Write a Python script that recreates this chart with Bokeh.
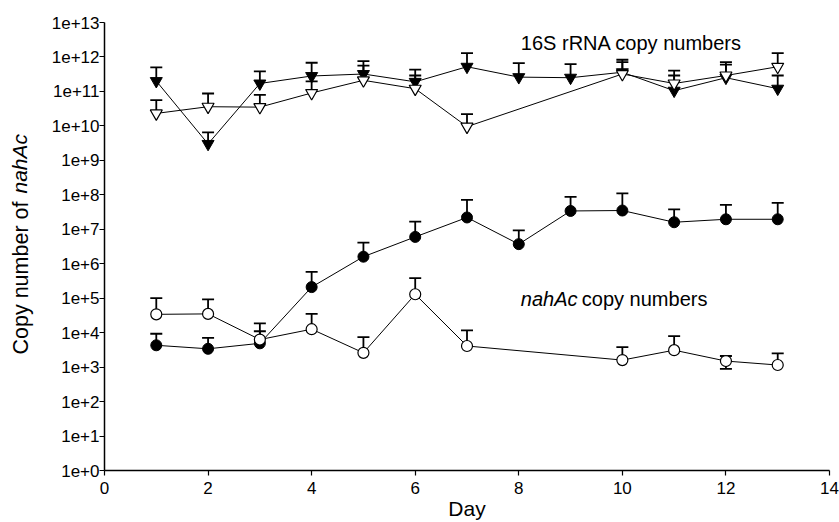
import math
from bokeh.plotting import figure
from bokeh.models import Range1d, FixedTicker, CustomJSTickFormatter, Whisker, TeeHead, Label, ColumnDataSource
from bokeh.embed import file_html
from bokeh.resources import INLINE

# ---------------- data ----------------
days_all = [1, 2, 3, 4, 5, 6, 7, 8, 9, 10, 11, 12, 13]
days_sub = [1, 2, 3, 4, 5, 6, 7, 10, 11, 12, 13]

# 16S rRNA copy numbers, filled triangles (all days)
tri_filled = [2.0e11, 3.0e9, 1.7e11, 2.8e11, 3.2e11, 1.9e11, 5.2e11, 2.6e11, 2.5e11, 3.6e11, 1.05e11, 2.5e11, 1.2e11]
tri_filled_top = [5.0e11, 6.5e9, 3.8e11, 6.8e11, 7.6e11, 4.3e11, 1.3e12, 6.6e11, 6.2e11, 8.3e11, 4.0e11, 7.1e11, 2.9e11]

# 16S rRNA copy numbers, open triangles
tri_open = [2.3e10, 3.6e10, 3.5e10, 9.0e10, 2.1e11, 1.2e11, 9.5e9, 3.2e11, 1.7e11, 2.9e11, 5.2e11]
tri_open_top = [5.6e10, 8.7e10, 7.9e10, 1.95e11, 5.6e11, 2.9e11, 2.2e10, 7.1e11, 2.9e11, 6.0e11, 1.3e12]

# nahAc copy numbers, filled circles (all days)
circ_filled = [4.3e3, 3.4e3, 4.9e3, 2.1e5, 1.6e6, 6.0e6, 2.2e7, 3.7e6, 3.4e7, 3.5e7, 1.6e7, 1.95e7, 1.95e7]
circ_filled_top = [9.3e3, 7.1e3, 1.1e4, 5.8e5, 4.1e6, 1.66e7, 7.1e7, 9.3e6, 8.7e7, 1.1e8, 3.8e7, 5.1e7, 5.8e7]

# nahAc copy numbers, open circles
circ_open = [3.4e4, 3.5e4, 6.3e3, 1.26e4, 2.6e3, 1.3e5, 4.1e3, 1.6e3, 3.1e3, 1.5e3, 1.15e3]
circ_open_top = [1.0e5, 9.3e4, 1.86e4, 3.5e4, 7.4e3, 3.8e5, 1.17e4, 3.8e3, 7.9e3, 2.1e3, 2.5e3]
circ_open_low_days = [12]
circ_open_low = [8.9e2]

x_ticks = [0, 2, 4, 6, 8, 10, 12, 14]
y_ticks = [10.0 ** k for k in range(0, 14)]

FONT = "Liberation Sans"

p = figure(width=839, height=522, output_backend="svg", toolbar_location=None,
           x_range=Range1d(0, 14), y_range=Range1d(1, 1e13), y_axis_type="log",
           min_border_left=104, min_border_right=10, min_border_top=22, min_border_bottom=52)
p.outline_line_color = None
p.xgrid.visible = False
p.ygrid.visible = False
p.background_fill_color = "white"
p.border_fill_color = "white"

for ax in (p.xaxis[0], p.yaxis[0]):
    ax.axis_line_color = "black"
    ax.axis_line_width = 1.5
    ax.major_tick_line_color = "black"
    ax.major_tick_line_width = 1.2
    ax.major_tick_in = 0
    ax.major_tick_out = 5
    ax.minor_tick_line_color = None
    ax.major_label_text_font = FONT
    ax.major_label_text_font_size = "17px"
    ax.major_label_text_color = "black"

p.xaxis.ticker = FixedTicker(ticks=x_ticks)
p.xaxis.major_label_standoff = 6
p.xaxis.axis_label = "Day"
p.xaxis.axis_label_text_font = FONT
p.xaxis.axis_label_text_font_style = "normal"
p.xaxis.axis_label_text_font_size = "21px"
p.xaxis.axis_label_text_color = "black"
p.xaxis.axis_label_standoff = 0

p.yaxis.ticker = FixedTicker(ticks=y_ticks)
p.yaxis.formatter = CustomJSTickFormatter(code="return '1e+' + Math.round(Math.log10(tick));")
p.yaxis.major_label_standoff = 0

# error bars (upper)
def upper_bars(xs, ys, tops):
    src = ColumnDataSource(dict(x=xs, lo=ys, hi=tops))
    w = Whisker(source=src, base="x", lower="lo", upper="hi", level="underlay",
                line_color="black", line_width=1.8,
                upper_head=TeeHead(size=12, line_color="black", line_width=1.8),
                lower_head=None)
    p.add_layout(w)

upper_bars(days_all, tri_filled, tri_filled_top)
upper_bars(days_sub, tri_open, tri_open_top)
upper_bars(days_all, circ_filled, circ_filled_top)
upper_bars(days_sub, circ_open, circ_open_top)

low_vals = [circ_open[days_sub.index(d)] for d in circ_open_low_days]
src_low = ColumnDataSource(dict(x=circ_open_low_days, lo=circ_open_low, hi=low_vals))
p.add_layout(Whisker(source=src_low, base="x", lower="lo", upper="hi", level="underlay",
                     line_color="black", line_width=1.8,
                     lower_head=TeeHead(size=12, line_color="black", line_width=1.8),
                     upper_head=None))

# lines
p.line(days_all, tri_filled, line_color="black", line_width=1)
p.line(days_sub, tri_open, line_color="black", line_width=1)
p.line(days_all, circ_filled, line_color="black", line_width=1)
p.line(days_sub, circ_open, line_color="black", line_width=1)

# markers
p.scatter(days_all, tri_filled, marker="inverted_triangle", size=12,
          fill_color="black", line_color="black", line_width=1)
p.scatter(days_sub, tri_open, marker="inverted_triangle", size=12,
          fill_color="white", line_color="black", line_width=1.2)
p.scatter(days_all, circ_filled, marker="circle", size=11,
          fill_color="black", line_color="black", line_width=1)
p.scatter(days_sub, circ_open, marker="circle", size=11,
          fill_color="white", line_color="black", line_width=1.2)

# annotations
p.add_layout(Label(x=8.04, y=10 ** 12.4, text="16S rRNA copy numbers",
                   text_font=FONT, text_font_size="20px", text_color="black",
                   text_baseline="alphabetic", text_align="left"))
p.add_layout(Label(x=8.04, y=10 ** 4.97, text="nahAc",
                   text_font=FONT, text_font_size="20px", text_font_style="italic",
                   text_color="black", text_baseline="alphabetic", text_align="left"))
p.add_layout(Label(x=8.04 + 61 / 51.82, y=10 ** 4.97, text="copy numbers",
                   text_font=FONT, text_font_size="20px", text_color="black",
                   text_baseline="alphabetic", text_align="left"))

# y-axis title with italic part, placed in the left side panels
p.add_layout(Label(x=-4, y=116, x_units="screen", y_units="screen",
                   text="Copy number of", angle=math.pi / 2,
                   text_font=FONT, text_font_size="21.5px", text_color="black",
                   text_baseline="alphabetic", text_align="left"), "left")
p.add_layout(Label(x=18, y=116 + 161, x_units="screen", y_units="screen",
                   text="nahAc", angle=math.pi / 2,
                   text_font=FONT, text_font_size="21px", text_font_style="italic",
                   text_color="black", text_baseline="alphabetic", text_align="left"), "left")

open("out.html", "w").write(file_html(p, INLINE))
